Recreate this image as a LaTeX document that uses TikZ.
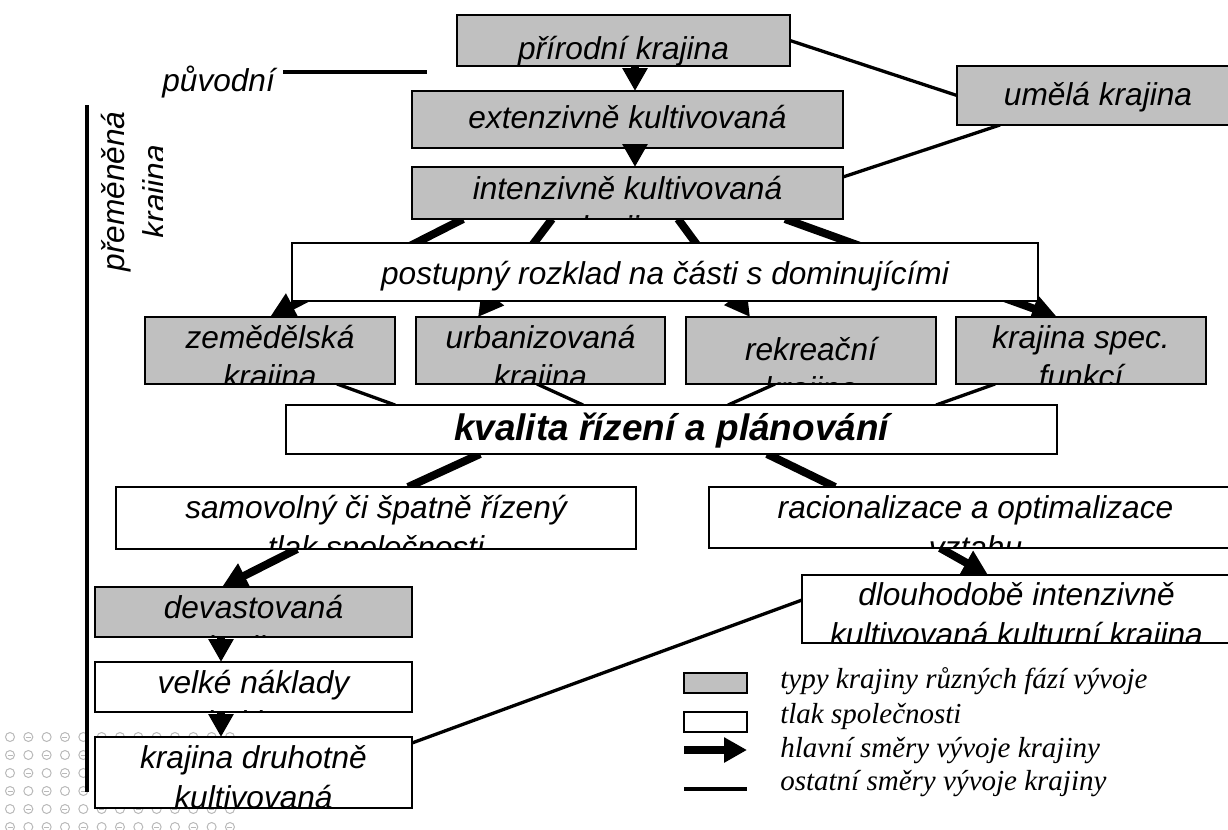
\documentclass[tikz,border=0pt]{standalone}
\usepackage{fontspec}
\setmainfont{Liberation Serif}
\newfontfamily\arial{Liberation Sans}
\usetikzlibrary{arrows.meta,calc,backgrounds}
\definecolor{boxgray}{RGB}{192,192,192}
\definecolor{dotgray}{RGB}{185,185,185}
\newcommand\boxfont{\arial\itshape\fontsize{18}{21.6}\selectfont}

\begin{document}
\begin{tikzpicture}[x=0.02cm, y=-0.02cm,
    box/.style={draw, line width=0.04cm, inner sep=0pt, outer sep=0pt},
    graybox/.style={box, fill=boxgray},
    whitebox/.style={box, fill=white},
    lbl/.style={anchor=base, inner sep=0pt, font=\boxfont},
    txt/.style n args={3}{path picture={
      \node[lbl] at ([yshift=-#1]path picture bounding box.north) {#2};
      \node[lbl] at ([yshift=-#1-0.8cm]path picture bounding box.north) {#3};}},
    mainline/.style={line width=0.16cm},
    mainarrow/.style={mainline, -{Triangle[length=0.5cm, width=0.52cm]}},
    downarrow/.style={mainline, -{Triangle[length=0.46cm, width=0.48cm]}},
    otherline/.style={line width=0.066cm},
    legendtext/.style={anchor=base west, inner sep=0pt, font=\itshape\fontsize{16.5}{19.8}\selectfont}]
  \useasboundingbox (0,0) rectangle (1228,829);

  % landscape types and pressures
  \node (prir) at (623.5,40.5) [graybox, minimum width=6.66cm, minimum height=1.02cm, txt={0.88cm}{přírodní krajina}{}] {};
  \node (umela) at (1098,95.5) [graybox, minimum width=5.64cm, minimum height=1.18cm, txt={0.78cm}{umělá krajina}{}] {};
  \node (ext) at (627.5,119.5) [graybox, minimum width=8.62cm, minimum height=1.14cm, txt={0.74cm}{extenzivně kultivovaná}{}] {};
  \node (int) at (627.5,193) [graybox, minimum width=8.62cm, minimum height=1.04cm, txt={0.64cm}{intenzivně kultivovaná}{krajina}] {};
  \node (post) at (665,272) [whitebox, minimum width=14.92cm, minimum height=1.16cm, txt={0.82cm}{postupný rozklad na části s dominujícími}{}] {};
  \node (zem) at (270,350.5) [graybox, minimum width=5cm, minimum height=1.34cm, txt={0.62cm}{zemědělská}{krajina}] {};
  \node (urb) at (540.5,350.5) [graybox, minimum width=4.98cm, minimum height=1.34cm, txt={0.62cm}{urbanizovaná}{krajina}] {};
  \node (rek) at (811,350.5) [graybox, minimum width=5cm, minimum height=1.34cm, txt={0.86cm}{rekreační}{krajina}] {};
  \node (spec) at (1081,350.5) [graybox, minimum width=5cm, minimum height=1.34cm, txt={0.62cm}{krajina spec.}{funkcí}] {};
  \node (kval) at (671.5,429.5) [whitebox, minimum width=15.42cm, minimum height=0.98cm, txt={0.70cm}{\bfseries\fontsize{21}{25}\selectfont kvalita řízení a plánování}{}] {};
  \node (samo) at (376,518) [whitebox, minimum width=10.4cm, minimum height=1.24cm, txt={0.62cm}{samovolný či špatně řízený}{tlak společnosti}] {};
  \node (raci) at (975.5,517.5) [whitebox, minimum width=10.66cm, minimum height=1.22cm, txt={0.62cm}{racionalizace a optimalizace}{vztahu}] {};
  \node (dev) at (253.5,612) [graybox, minimum width=6.34cm, minimum height=1cm, txt={0.62cm}{devastovaná}{krajina}] {};
  \node (dlou) at (1016.5,609) [whitebox, minimum width=8.58cm, minimum height=1.36cm, txt={0.60cm}{dlouhodobě intenzivně}{kultivovaná kulturní krajina}] {};
  \node (velke) at (253.5,687) [whitebox, minimum width=6.34cm, minimum height=1cm, txt={0.62cm}{velké náklady}{rekultivace}] {};
  \node (druh) at (253.5,772.5) [whitebox, minimum width=6.34cm, minimum height=1.42cm, txt={0.62cm}{krajina druhotně}{kultivovaná}] {};

  \begin{scope}[on background layer]
    % slide pattern
    \foreach \i in {0,...,12}
      \foreach \j in {0,...,5} {
        \draw[dotgray, line width=0.02cm] ({10+18.33*\i},{737+18*\j}) circle[radius=0.09cm];
        \ifodd\numexpr\i+\j\relax
          \draw[dotgray, line width=0.02cm] ({7.5+18.33*\i},{737+18*\j}) -- ++(5,0);
        \fi
      }
    \draw[otherline] (prir.east) -- (umela.west);
    \draw[otherline] ($(int.north east)+(0,10)$) -- ($(umela.south west)+(43,0)$);
    \draw[mainarrow] ($(int.south west)+(51,0)$) -- (zem.north);
    \draw[mainarrow] ($(int.south west)+(140,0)$) -- ($(urb.north west)+(62,0)$);
    \draw[mainarrow] ($(int.south west)+(266,0)$) -- ($(rek.north west)+(64,0)$);
    \draw[mainarrow] ($(int.south west)+(373,0)$) -- ($(spec.north west)+(101,0)$);
    \draw[otherline] ($(zem.south west)+(192,0)$) -- ($(kval.north west)+(109,0)$);
    \draw[otherline] ($(urb.south west)+(121,0)$) -- ($(kval.north west)+(297,0)$);
    \draw[otherline] ($(rek.south west)+(89,0)$) -- ($(kval.north west)+(442,0)$);
    \draw[otherline] ($(spec.south west)+(39,0)$) -- ($(kval.north west)+(650,0)$);
    \draw[mainline] ($(kval.south west)+(194,0)$) -- ($(samo.north west)+(292,0)$);
    \draw[mainline] ($(kval.south west)+(481,0)$) -- ($(raci.north west)+(126,0)$);
    \draw[mainarrow] ($(samo.south west)+(181,0)$) -- ($(dev.north west)+(127,0)$);
    \draw[mainarrow] ($(raci.south west)+(231,0)$) -- ($(dlou.north west)+(186,0)$);
    \draw[otherline] ($(druh.north east)+(0,6)$) -- ($(dlou.north west)+(0,25)$);
  \end{scope}

  \foreach \source/\dest/\x in {prir/ext/635, ext/int/635, dev/velke/221, velke/druh/221}
    \draw[downarrow] (\x,0 |- \source.south) -- (\x,0 |- \dest.north);

  % left side
  \node (puv) at (162,91) [lbl, anchor=base west] {původní};
  \coordinate (puvL) at (283,72);
  \coordinate (puvR) at (427,72);
  \draw[line width=0.08cm] (puvL) -- (puvR);
  \coordinate (barT) at (87,105);
  \coordinate (barB) at (87,792);
  \draw[line width=0.08cm] (barT) -- (barB);
  \begin{scope}
    \clip (90,100) rectangle (162,300);
    \node (prem1) at (124,191.5) [lbl, rotate=90] {přeměněná};
    \node (prem2) at (165,191.5) [lbl, rotate=90] {krajina};
  \end{scope}

  % legend
  \node (legray) at (715.5,683) [graybox, minimum width=1.26cm, minimum height=0.4cm] {};
  \node (lewhite) at (715.5,722) [whitebox, minimum width=1.26cm, minimum height=0.4cm] {};
  \coordinate (lemainA) at (684,750);
  \coordinate (lemainB) at (747,750);
  \coordinate (leotherA) at (684,789);
  \coordinate (leotherB) at (747,789);
  \draw[downarrow] (lemainA) -- (lemainB);
  \draw[line width=0.08cm] (leotherA) -- (leotherB);
  \node (lt1) at (780,688) [legendtext] {typy krajiny různých fází vývoje};
  \node (lt2) at (780,723) [legendtext] {tlak společnosti};
  \node (lt3) at (780,757) [legendtext] {hlavní směry vývoje krajiny};
  \node (lt4) at (780,790) [legendtext] {ostatní směry vývoje krajiny};
\end{tikzpicture}
\end{document}
